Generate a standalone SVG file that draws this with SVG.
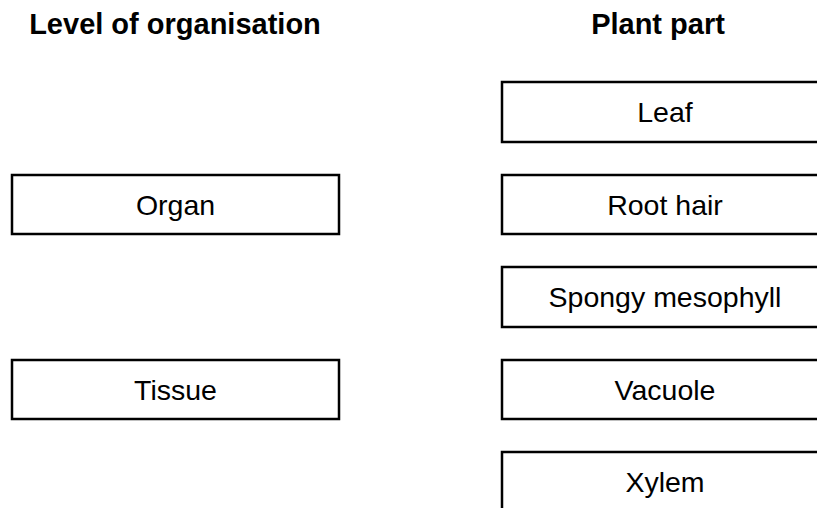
<svg xmlns="http://www.w3.org/2000/svg" width="817" height="508" viewBox="0 0 817 508">
<style>
.box{fill:#fff;stroke:#000;stroke-width:2.5}
.t{font-family:"Liberation Sans",Arial,sans-serif;font-size:28.5px;text-anchor:middle;fill:#000}
.h{font-family:"Liberation Sans",Arial,sans-serif;font-size:29px;font-weight:bold;text-anchor:middle;fill:#000}
</style>
<rect width="817" height="508" fill="#fff"/>
<text class="h" x="175" y="34">Level of organisation</text>
<text class="h" x="658" y="34">Plant part</text>
<g id="organ"><rect class="box" x="12" y="175" width="327" height="59"/><text class="t" x="175.5" y="215">Organ</text></g>
<g id="tissue"><rect class="box" x="12" y="360" width="327" height="59"/><text class="t" x="175.5" y="400">Tissue</text></g>
<g id="leaf"><rect class="box" x="502" y="82" width="327" height="60"/><text class="t" x="665" y="122">Leaf</text></g>
<g id="roothair"><rect class="box" x="502" y="175" width="327" height="59"/><text class="t" x="665" y="215">Root hair</text></g>
<g id="spongy"><rect class="box" x="502" y="267" width="327" height="60"/><text class="t" x="665" y="307">Spongy mesophyll</text></g>
<g id="vacuole"><rect class="box" x="502" y="360" width="327" height="59"/><text class="t" x="665" y="400">Vacuole</text></g>
<g id="xylem"><rect class="box" x="502" y="452" width="327" height="60"/><text class="t" x="665" y="492">Xylem</text></g>
<g id="connectors"/>
</svg>
